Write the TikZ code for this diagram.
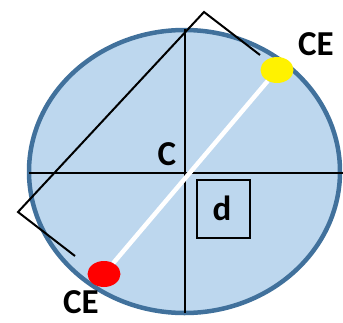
\documentclass[tikz,border=0pt]{standalone}
\usepackage{fontspec}
\setmainfont{Carlito}
\usetikzlibrary{shapes.geometric}
\definecolor{ringblue}{HTML}{41719C}
\definecolor{fillblue}{HTML}{BDD7EE}
\begin{document}
\begin{tikzpicture}[x=1pt,y=-1pt,
  lbl/.style={font=\fontsize{35}{35}\selectfont\bfseries, inner sep=0pt, text depth=0pt},
  thin/.style={line width=2pt, black},
  dot/.style={ellipse, minimum width=33pt, minimum height=26pt, inner sep=0pt}]
\useasboundingbox (0,0) rectangle (343,322);
\node[draw=ringblue, fill=fillblue, line width=4.5pt, ellipse, minimum width=311pt, minimum height=283pt, inner sep=0pt] (circ) at (184.5,171.5) {};
\coordinate (hl) at (29,173);
\coordinate (hr) at (343,173);
\coordinate (vt) at (185,29);
\coordinate (vb) at (185,313);
\draw[thin] (hl) -- (hr);
\draw[thin] (vt) -- (vb);
\coordinate (b1) at (75,256);
\coordinate (b2) at (18,212);
\coordinate (b3) at (204,12);
\coordinate (b4) at (260,55);
\draw[thin] (b1) -- (b2) -- (b3) -- (b4);
\node[dot, fill=yellow] (ye) at (277,70) {};
\node[dot, fill=red] (re) at (104,274) {};
\draw[white, line width=4.5pt] (re) -- (ye);
\node[draw, thin, minimum width=53pt, minimum height=58pt, inner sep=0pt] (box) at (223,208.5) {};
\node[lbl] (d) at (222,208) {d};
\node[lbl] (c) at (167,154) {C};
\node[lbl] (ce1) at (316,44) {CE};
\node[lbl] (ce2) at (81,302) {CE};
\end{tikzpicture}
\end{document}
